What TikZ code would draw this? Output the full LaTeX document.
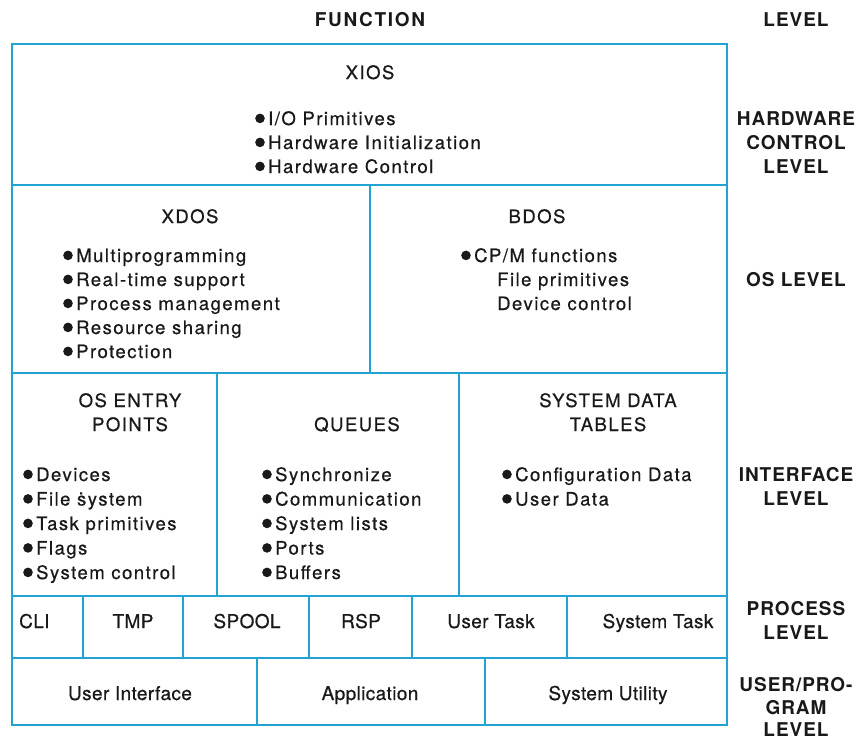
\documentclass[tikz,border=0pt]{standalone}
\usepackage{fontspec}
\setmainfont{TeX Gyre Heros}
\newfontfamily\mfam[LetterSpace=8,FakeBold=0.6]{TeX Gyre Heros}
\newfontfamily\pfam[LetterSpace=2,FakeBold=0.6]{TeX Gyre Heros}
\newfontfamily\lfam[LetterSpace=5]{TeX Gyre Heros}
\newfontfamily\ffam[LetterSpace=9]{TeX Gyre Heros}
\newcommand\mtxt{\mfam\fontsize{18.5}{24}\selectfont}
\newcommand\ptxt{\pfam\fontsize{19}{24}\selectfont}
\newcommand\ltxt{\lfam\bfseries\fontsize{19}{24}\selectfont}
\newcommand\ftxt{\ffam\bfseries\fontsize{19}{24}\selectfont}
\definecolor{gridblue}{RGB}{35,162,212}
\definecolor{ink}{RGB}{25,25,25}
\newcommand\bulglyph{\tikz[baseline=0pt]\fill[ink] (5pt,6.6pt) circle[radius=4.8pt];}
\newcommand\bl[1]{\makebox[13pt][l]{\bulglyph}#1}
\begin{document}
\begin{tikzpicture}[x=1pt,y=-1pt,
  grid/.style={draw=gridblue,line width=2.7pt},
  ct/.style={inner sep=0pt,anchor=base,font=\mtxt,text=ink},
  lt/.style={inner sep=0pt,anchor=base west,font=\mtxt,text=ink},
  pt/.style={inner sep=0pt,anchor=base,font=\ptxt,text=ink},
  lv/.style={inner sep=0pt,anchor=base,font=\ltxt,text=ink}]
\useasboundingbox (0,0) rectangle (863,740);
% grid
\draw[grid] (12,44) rectangle (727,725);
\draw[grid] (12,185) -- (727,185);
\draw[grid] (12,373) -- (727,373);
\draw[grid] (12,596) -- (727,596);
\draw[grid] (12,658) -- (727,658);
\draw[grid] (370,185) -- (370,373);
\draw[grid] (217,373) -- (217,596);
\draw[grid] (459,373) -- (459,596);
\foreach \x in {83,183,309,412,567} \draw[grid] (\x,596) -- (\x,658);
\draw[grid] (257,658) -- (257,725);
\draw[grid] (485,658) -- (485,725);
% headings
\node[lv,font=\ftxt] (func) at (370,26) {FUNCTION};
\node[lv] (lvl) at (796,26) {LEVEL};
% XIOS
\node[ct] (xios) at (370,79) {XIOS};
\node[lt] (x1) at (255,125) {\bl{I/O Primitives}};
\node[lt] (x2) at (255,149) {\bl{Hardware Initialization}};
\node[lt] (x3) at (255,173) {\bl{Hardware Control}};
% XDOS
\node[ct] (xdos) at (190,223) {XDOS};
\node[lt] (d1) at (63,262) {\bl{Multiprogramming}};
\node[lt] (d2) at (63,286) {\bl{Real-time support}};
\node[lt] (d3) at (63,310) {\bl{Process management}};
\node[lt] (d4) at (63,334) {\bl{Resource sharing}};
\node[lt] (d5) at (63,358) {\bl{Protection}};
% BDOS
\node[ct] (bdos) at (537,223) {BDOS};
\node[lt] (b1) at (461,262) {\bl{CP/M functions}};
\node[lt] (b2) at (497,286) {File primitives};
\node[lt] (b3) at (497,310) {Device control};
% OS entry points
\node[ct] (oe1) at (130,407) {OS ENTRY};
\node[ct] (oe2) at (130,431) {POINTS};
\node[lt] (e1) at (23,481) {\bl{Devices}};
\node[lt] (e2) at (23,505.5) {\bl{File \.system}};
\node[lt] (e3) at (23,530) {\bl{Task primitives}};
\node[lt] (e4) at (23,554.5) {\bl{Flags}};
\node[lt] (e5) at (23,579) {\bl{System control}};
% Queues
\node[ct] (que) at (357,431) {QUEUES};
\node[lt] (q1) at (262,481) {\bl{Synchronize}};
\node[lt] (q2) at (262,505.5) {\bl{Communication}};
\node[lt] (q3) at (262,530) {\bl{System lists}};
\node[lt] (q4) at (262,554.5) {\bl{Ports}};
\node[lt] (q5) at (262,579) {\bl{Buffers}};
% System data tables
\node[ct] (sd1) at (608,407) {SYSTEM DATA};
\node[ct] (sd2) at (608,431) {TABLES};
\node[lt] (s1) at (502,481) {\bl{Configuration Data}};
\node[lt] (s2) at (502,505.5) {\bl{User Data}};
% process row
\node[pt,anchor=base west] (cli) at (19,628) {CLI};
\node[pt] (tmp) at (133,628) {TMP};
\node[pt] (spool) at (247,628) {SPOOL};
\node[pt] (rsp) at (361,628) {RSP};
\node[pt] (utask) at (491,628) {User Task};
\node[pt] (stask) at (658,628) {System Task};
% user/program row
\node[pt] (ui) at (130,700) {User Interface};
\node[pt] (app) at (370,700) {Application};
\node[pt] (su) at (608,700) {System Utility};
% level labels
\node[lv] (h1) at (796,125) {HARDWARE};
\node[lv] (h2) at (796,149) {CONTROL};
\node[lv] (h3) at (796,173) {LEVEL};
\node[lv] (os) at (796,286) {OS LEVEL};
\node[lv] (i1) at (796,481) {INTERFACE};
\node[lv] (i2) at (796,505) {LEVEL};
\node[lv] (p1) at (796,615) {PROCESS};
\node[lv] (p2) at (796,639) {LEVEL};
\node[lv] (u1) at (796,691) {USER/PRO-};
\node[lv] (u2) at (796,714) {GRAM};
\node[lv] (u3) at (796,736.5) {LEVEL};
\end{tikzpicture}
\end{document}
